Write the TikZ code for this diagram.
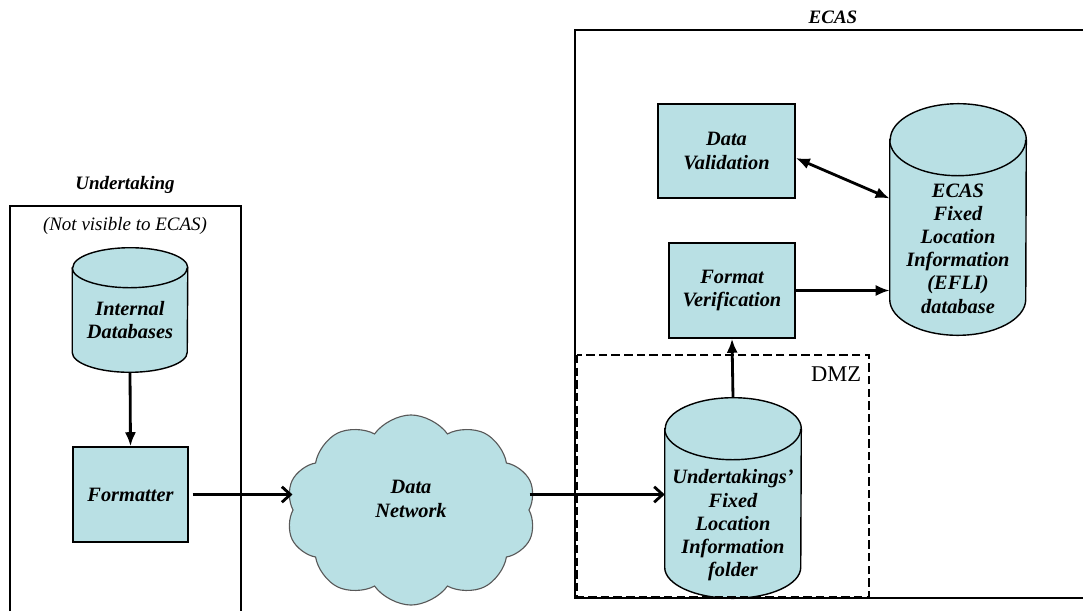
\documentclass[tikz,border=0pt]{standalone}
\usepackage{fontspec}
\setmainfont{Liberation Serif}
\usetikzlibrary{positioning,calc,arrows.meta,shapes.symbols,backgrounds}

\definecolor{boxfill}{RGB}{185,224,228}

% text block that does not count for the node size, moved by #1
\newcommand{\shiftedtext}[2]{\raisebox{#1}[0pt][0pt]{\begin{tabular}{@{}c@{}}#2\end{tabular}}}
% drum outline around a node: node, half width, cap radius
\newcommand{\drum}[3]{%
  \path[fill=boxfill, draw, line width=1pt] ([yshift=-#3]#1.north west) -- ([yshift=#3]#1.south west)
    arc[start angle=180, end angle=360, x radius=#2, y radius=#3]
    -- ([yshift=-#3]#1.north east)
    arc[start angle=0, end angle=180, x radius=#2, y radius=#3] -- cycle;
  \draw[line width=1pt] ([yshift=-#3]#1.north west)
    arc[start angle=180, end angle=360, x radius=#2, y radius=#3];
}

\tikzset{
  lbl/.style={font=\fontsize{14.5}{16.5}\selectfont\bfseries\itshape, align=center},
  title/.style={font=\fontsize{13.5}{16.5}\selectfont\bfseries\itshape},
  procbox/.style={lbl, draw, fill=boxfill, line width=1pt, inner sep=0pt},
  dbcyl/.style={lbl, inner sep=0pt},
  flow/.style={line width=2pt, -{Latex[length=10pt,width=8pt]}},
  openflow/.style={line width=2pt, -{Straight Barb[length=6pt,width=11pt]}}
}

\begin{document}
\begin{tikzpicture}[x=0.025cm, y=-0.025cm]
  \useasboundingbox (0,0) rectangle (1083,611);

  % Undertaking side
  \node[title] (undtitle) at (125,185) {Undertaking};
  \draw[line width=.8pt] (10,611) -- (10,206) -- (241,206) -- (241,611);
  \node[font=\fontsize{13.5}{16.5}\selectfont\itshape] (hidden) at (125,226) {(Not visible to ECAS)};

  \node[dbcyl, minimum width=2.875cm, minimum height=3.1cm] (idb) at (130,310)
    {\shiftedtext{-0.43cm}{Internal\\Databases}};
  \node[procbox, minimum width=2.875cm, minimum height=2.375cm] (fmt) at (130.5,494.5) {Formatter};

  % Network
  \node[lbl, shape=cloud, cloud puffs=10, cloud puff arc=110, aspect=1.3, draw=black!65, line width=.8pt,
    fill=boxfill, minimum width=6.25cm, minimum height=4.75cm] (net) at (411,510)
    {\shiftedtext{0.1cm}{Data\\Network}};

  % ECAS side
  \node[title] (ecastitle) at (833,17) {ECAS};
  \draw[line width=.8pt] (1083,30) -- (575,30) -- (575,598) -- (1083,598);
  \draw[dash pattern=on 6pt off 3pt, line width=1.6pt] (577,355) rectangle (869,597);
  \node[font=\fontsize{16}{18}\selectfont, anchor=north east] (dmz) at (866,362) {DMZ};

  \node[procbox, minimum width=3.425cm, minimum height=2.35cm] (dv) at (726.5,151) {Data\\Validation};
  \node[procbox, minimum width=3.15cm, minimum height=2.375cm] (fv) at (732,290.5) {Format\\Verification};
  \node[dbcyl, minimum width=3.4cm, minimum height=5.775cm] (efli) at (958,219.5)
    {\shiftedtext{-0.9cm}{ECAS\\Fixed\\Location\\Information\\(EFLI)\\database}};
  \node[dbcyl, minimum width=3.4cm, minimum height=5cm] (ufli) at (733,498)
    {\shiftedtext{-0.82cm}{Undertakings'\\Fixed\\Location\\Information\\folder}};

  \begin{scope}[on background layer]
    \drum{idb}{1.4375cm}{0.5cm}
    \drum{efli}{1.7cm}{0.9cm}
    \drum{ufli}{1.7cm}{0.775cm}
  \end{scope}

  % Connectors
  \draw[flow] (idb.south) -- (fmt.north);
  \draw[openflow] ($(fmt.east)+(4,0)$) -- (fmt.east -| net.west);
  \draw[openflow] (fmt.east -| net.east) -- (fmt.east -| ufli.west);
  \draw[flow] (ufli.north) -- (fv.south);
  \draw[flow] (fv.east) -- (fv.east -| efli.west);
  \draw[line width=2pt, {Latex[length=10pt,width=8pt]}-{Latex[length=10pt,width=8pt]}]
    ($(dv.east)+(0,7)$) -- ($(efli.west)+(0,-21)$);
\end{tikzpicture}
\end{document}
